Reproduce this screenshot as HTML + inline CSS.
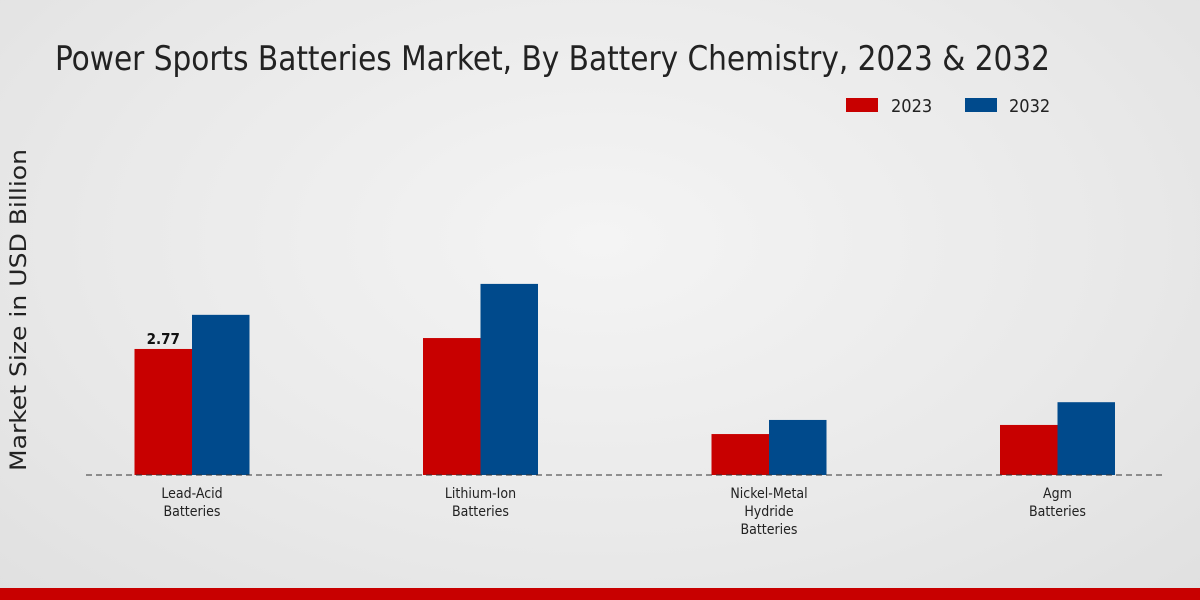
<!DOCTYPE html>
<html><head><meta charset="utf-8"><style>
html,body{margin:0;padding:0;width:1200px;height:600px;overflow:hidden}
body{background:radial-gradient(ellipse at 50% 40%,#f4f4f4 0%,#e9e9e9 60%,#e0e0e0 100%);font-family:"DejaVu Sans Condensed","DejaVu Sans","Liberation Sans",sans-serif}
</style></head><body>
<svg id="chart" width="1200" height="600" xmlns="http://www.w3.org/2000/svg">
<text x="55" y="70" font-size="34" fill="#222" textLength="995" lengthAdjust="spacingAndGlyphs">Power Sports Batteries Market, By Battery Chemistry, 2023 &amp; 2032</text>
<text transform="translate(26,310) rotate(-90)" text-anchor="middle" font-size="22" fill="#222" textLength="322" lengthAdjust="spacingAndGlyphs">Market Size in USD Billion</text>
<g>
<rect x="846" y="98" width="32" height="14" fill="#c80000"/>
<text x="891" y="112" font-size="18" fill="#222">2023</text>
<rect x="965" y="98" width="32" height="14" fill="#004a8c"/>
<text x="1009" y="112" font-size="18" fill="#222">2032</text>
</g>
<g id="bars"></g>
<line x1="86" y1="475" x2="1165" y2="475" stroke="#333" stroke-width="1" stroke-dasharray="6,4"/>
<g id="labels"></g>
<rect x="0" y="588" width="1200" height="12" fill="#c80000"/>
</svg>
<script>
const categories=[["Lead-Acid","Batteries"],["Lithium-Ion","Batteries"],["Nickel-Metal","Hydride","Batteries"],["Agm","Batteries"]];
const values2023=[2.77,3.01,0.9,1.1];
const values2032=[3.52,4.2,1.21,1.6];
const seriesNames=["2023","2032"];
const colors=["#c80000","#004a8c"];
const baseY=475, pxPerUnit=45.5, x0=192, step=288.5, bw=57.5;
const yScale=v=>baseY-v*pxPerUnit;
const xCenter=i=>x0+i*step;
const NS="http://www.w3.org/2000/svg";
const bars=document.getElementById('bars'), labels=document.getElementById('labels');
[values2023,values2032].forEach((vals,s)=>{
  vals.forEach((v,i)=>{
    const r=document.createElementNS(NS,'rect');
    
    
    const x=s===0?xCenter(i)-bw:xCenter(i);
    r.setAttribute('x',x);r.setAttribute('y',yScale(v));
    r.setAttribute('width',bw);r.setAttribute('height',baseY-yScale(v));
    r.setAttribute('fill',colors[s]);bars.appendChild(r);
  });
});
const vl=document.createElementNS(NS,'text');


vl.setAttribute('x',xCenter(0)-bw/2);vl.setAttribute('y',yScale(values2023[0])-5);
vl.setAttribute('text-anchor','middle');vl.setAttribute('font-size','15');vl.setAttribute('font-weight','bold');vl.setAttribute('fill','#111');
vl.textContent=values2023[0].toFixed(2);bars.appendChild(vl);
categories.forEach((lines,i)=>{
  lines.forEach((ln,j)=>{
    const t=document.createElementNS(NS,'text');
    
    
    t.setAttribute('x',xCenter(i));t.setAttribute('y',498+j*18);
    t.setAttribute('text-anchor','middle');t.setAttribute('font-size','14');t.setAttribute('fill','#222');
    t.textContent=ln;labels.appendChild(t);
  });
});
</script>
</body></html>
